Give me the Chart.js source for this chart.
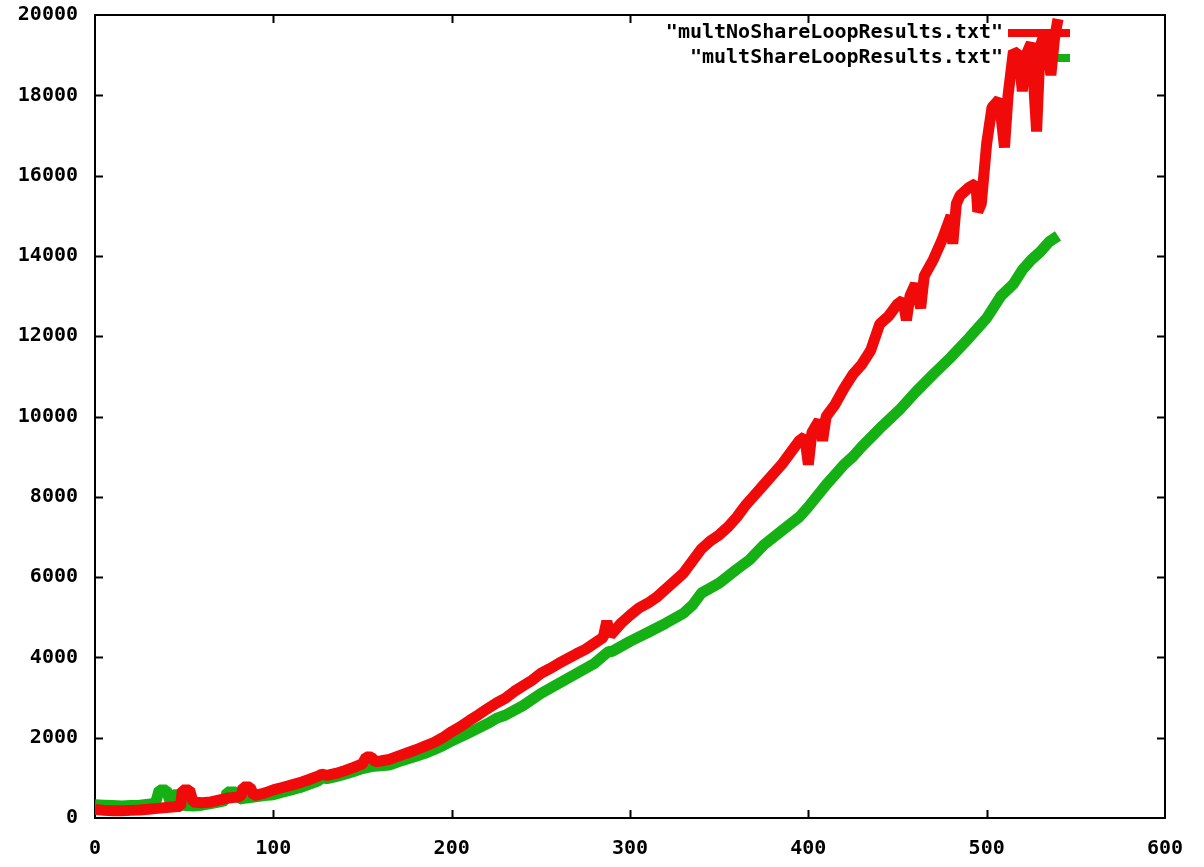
<!DOCTYPE html>
<html>
<head>
<meta charset="utf-8">
<script src="https://cdn.jsdelivr.net/npm/chart.js@4.4.0/dist/chart.umd.min.js"></script>
<style>
  html, body { margin:0; padding:0; background:#fff; }
  #wrap { width:1204px; height:867px; }
</style>
</head>
<body>
<div id="wrap"><canvas id="plot" width="1204" height="867"></canvas></div>
<script>
// gnuplot-style timing results

const noShareX = [0,5,10,15,20,25,30,35,40,45,48,49,53,55,60,65,70,75,80,82,83,87,89,95,
  100,105,110,115,120,125,127,130,135,140,145,150,152,155,157,160,165,170,175,180,185,190,195,
  200,205,210,215,220,225,230,235,240,245,250,255,260,265,270,275,280,285,287,289,292,295,
  300,305,310,315,320,325,330,335,340,345,350,355,360,365,370,375,380,385,390,395,398,400,402,406,408,410,
  415,420,425,430,435,440,445,450,453,455,457,460,463,465,470,475,480,481,483,485,490,494,495,497,
  500,503,507,510,512,515,518,520,522,525,528,530,532,535,536,538,540];
const noShareY = [210,190,180,180,190,200,220,240,260,280,290,700,700,400,380,400,450,500,520,560,770,770,560,620,
  700,760,820,880,960,1040,1090,1060,1110,1180,1260,1350,1520,1520,1400,1420,1460,1540,1620,1700,1790,1880,2000,
  2150,2280,2430,2570,2720,2860,2980,3150,3290,3430,3600,3720,3850,3970,4090,4200,4350,4500,4900,4550,4700,4850,
  5050,5230,5350,5500,5700,5900,6100,6400,6700,6900,7050,7250,7500,7800,8050,8300,8550,8800,9100,9400,9500,8800,9600,9900,9400,10000,
  10300,10700,11050,11300,11650,12300,12500,12800,12900,12400,13000,13300,12700,13500,13900,14400,15000,14300,15300,15500,15700,15800,15100,15300,
  16800,17700,17900,16700,18000,19100,19000,18100,19000,19300,17100,19200,19500,18900,18500,19400,19900];

const shareX = [0,5,10,15,20,25,30,34,36,40,42,44,47,49,55,60,65,70,73,74,79,81,85,90,95,
  100,105,110,115,120,125,127,130,135,140,145,150,155,160,165,170,175,180,185,190,195,
  200,210,220,225,230,240,250,260,270,280,288,290,300,310,320,330,335,340,350,360,367,375,385,395,
  400,410,420,425,430,440,451,460,470,480,490,500,508,515,520,525,530,535,540];
const shareY = [330,320,310,300,310,320,340,380,700,700,420,580,580,320,300,320,360,400,430,650,650,470,500,530,560,
  580,640,700,760,840,920,1000,980,1030,1090,1160,1230,1280,1300,1320,1400,1470,1540,1610,1700,1800,
  1920,2130,2350,2480,2560,2800,3100,3350,3600,3850,4150,4150,4400,4620,4850,5100,5300,5600,5850,6200,6430,6800,7150,7500,
  7750,8300,8800,9000,9250,9700,10160,10600,11050,11480,11950,12450,13000,13300,13650,13900,14100,14350,14500];

const seriesLabels = ['"multNoShareLoopResults.txt"', '"multShareLoopResults.txt"'];
const seriesColors = ['#f00a0a', '#14b014'];

const xTickStep = 100, xMax = 600;
const yTickStep = 2000, yMax = 20000;

const FONT = { family:'"DejaVu Sans Mono", monospace', size:20, weight:'bold' };

function pairs(xs, ys) { return xs.map((x, i) => ({ x:x, y:ys[i] })); }

// box, inward ticks on all four sides, legend under the curves
const gnuplotFrame = {
  id:'gnuplotFrame',
  beforeDatasetsDraw(chart) {
    const ctx = chart.ctx, a = chart.chartArea;
    const xs = chart.scales.x, ys = chart.scales.y;
    ctx.save();
    ctx.strokeStyle = '#000';
    ctx.lineWidth = 2;
    ctx.beginPath();
    xs.ticks.forEach(t => {
      const px = Math.round(xs.getPixelForValue(t.value)) + 0.5;
      if (t.value === 0 || t.value === xMax) return;
      ctx.moveTo(px, a.bottom); ctx.lineTo(px, a.bottom - 8);
      ctx.moveTo(px, a.top); ctx.lineTo(px, a.top + 8);
    });
    ys.ticks.forEach(t => {
      const py = Math.round(ys.getPixelForValue(t.value)) + 0.5;
      if (t.value === 0 || t.value === yMax) return;
      ctx.moveTo(a.left, py); ctx.lineTo(a.left + 8, py);
      ctx.moveTo(a.right, py); ctx.lineTo(a.right - 8, py);
    });
    ctx.stroke();
    ctx.strokeRect(a.left, a.top, a.right - a.left, a.bottom - a.top);

    // key
    ctx.font = 'bold 20px "DejaVu Sans Mono", monospace';
    ctx.textAlign = 'right';
    ctx.textBaseline = 'middle';
    chart.data.datasets.forEach((ds, i) => {
      const y = 33 + i * 25;
      ctx.fillStyle = '#000';
      ctx.fillText(ds.label, 1003, y);
      ctx.strokeStyle = ds.borderColor;
      ctx.lineWidth = 8;
      ctx.beginPath();
      ctx.moveTo(1008, y); ctx.lineTo(1070, y);
      ctx.stroke();
    });
    ctx.restore();
  }
};

new Chart(document.getElementById('plot'), {
  type:'scatter',
  data:{
    datasets:[
      { label:seriesLabels[0], data:pairs(noShareX, noShareY), borderColor:seriesColors[0], backgroundColor:seriesColors[0],
        showLine:true, borderWidth:11, pointRadius:0, tension:0, borderJoinStyle:'bevel', borderCapStyle:'butt' },
      { label:seriesLabels[1], data:pairs(shareX, shareY), borderColor:seriesColors[1], backgroundColor:seriesColors[1],
        showLine:true, borderWidth:11, pointRadius:0, tension:0, borderJoinStyle:'bevel', borderCapStyle:'butt' }
    ]
  },
  options:{
    responsive:false,
    animation:false,
    layout:{ padding:{ top:15, right:39, left:0, bottom:0 } },
    plugins:{ legend:{ display:false }, tooltip:{ enabled:false } },
    scales:{
      x:{
        type:'linear', min:0, max:xMax,
        grid:{ display:false, drawTicks:false },
        border:{ display:false },
        ticks:{ stepSize:xTickStep, color:'#000', font:FONT, padding:19, maxRotation:0, callback:v => String(v) },
        afterFit(s) { s.height = 49; s.paddingLeft = 0; s.paddingRight = 0; }
      },
      y:{
        type:'linear', min:0, max:yMax,
        grid:{ display:false, drawTicks:false },
        border:{ display:false },
        ticks:{ stepSize:yTickStep, color:'#000', font:FONT, padding:17, callback:v => String(v) },
        afterFit(s) { s.width = 95; s.paddingTop = 0; s.paddingBottom = 0; }
      }
    }
  },
  plugins:[gnuplotFrame]
});
</script>
</body>
</html>
